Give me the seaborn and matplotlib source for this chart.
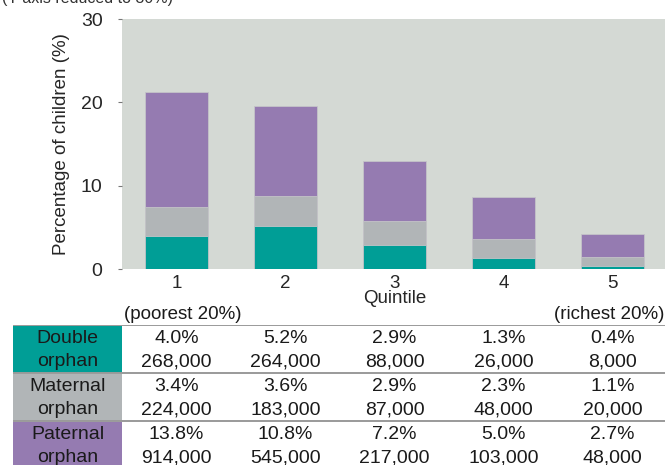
import matplotlib.pyplot as plt
import matplotlib.transforms as mtransforms
import pandas as pd
import seaborn as sns

# values
quintiles = ["1", "2", "3", "4", "5"]
double_pct = [4.0, 5.2, 2.9, 1.3, 0.4]
maternal_pct = [3.4, 3.6, 2.9, 2.3, 1.1]
paternal_pct = [13.8, 10.8, 7.2, 5.0, 2.7]
double_n = ["268,000", "264,000", "88,000", "26,000", "8,000"]
maternal_n = ["224,000", "183,000", "87,000", "48,000", "20,000"]
paternal_n = ["914,000", "545,000", "217,000", "103,000", "48,000"]
row_names = ["Double\norphan", "Maternal\norphan", "Paternal\norphan"]

teal = "#009E96"
grey = "#B1B5B7"
purple = "#957BB1"
bg = "#D4D9D4"

sns.set_theme(style="white")
plt.rcParams["font.family"] = ["Liberation Sans", "DejaVu Sans"]
plt.rcParams["text.color"] = "#1a1a1a"

df = pd.DataFrame({"quintile": quintiles, "double": double_pct,
                   "maternal": maternal_pct, "paternal": paternal_pct})
df["dm"] = df["double"] + df["maternal"]
df["total"] = df["dm"] + df["paternal"]

fig = plt.figure(figsize=(6.65, 4.65), dpi=100)
ax = fig.add_axes([122 / 665, 1 - 269 / 465, 545 / 665, 250 / 465])
ax.set_facecolor(bg)

# stacked bars: draw totals first, then overlay the lower parts
for col, c in [("total", purple), ("dm", grey), ("double", teal)]:
    sns.barplot(data=df, x="quintile", y=col, color=c, width=0.57,
                saturation=1, edgecolor="#c4c4c8", linewidth=0.6, ax=ax)

ax.set_xlim(-0.5, 4.5)
ax.set_ylim(0, 30)
ax.set_yticks([0, 10, 20, 30])
ax.set_yticklabels(["0", "10", "20", "30"], fontsize=14)
for s in ax.spines.values():
    s.set_visible(False)
ax.tick_params(axis="y", length=3, width=0.8, color="#777777", pad=11, left=True)
ax.tick_params(axis="x", length=0, pad=4, labelsize=13.5)
ax.set_ylabel("Percentage of children (%)", fontsize=13.5, labelpad=8)
ax.set_xlabel("Quintile", fontsize=13.5, labelpad=-1)

trans = mtransforms.blended_transform_factory(ax.transAxes, fig.transFigure)
ax.text(0.003, 1 - 314 / 465, "(poorest 20%)", transform=trans, ha="left", va="center", fontsize=13.5)
ax.text(0.996, 1 - 314 / 465, "(richest 20%)", transform=trans, ha="right", va="center", fontsize=13.5)

fig.text(2 / 665, 1 - 3 / 465, "(Y axis reduced to 30%)", fontsize=11.5, va="baseline", ha="left",
         color="#333333")

# table under the chart
tab = fig.add_axes([13 / 665, 0, 654 / 665, 140 / 465])
tab.set_xlim(-1.5, 4.5)
tab.set_ylim(140 / 48, 0)
tab.axis("off")
cols = [teal, grey, purple]
pcts = [double_pct, maternal_pct, paternal_pct]
nums = [double_n, maternal_n, paternal_n]
for i in range(3):
    tab.fill_between([-1.5, -0.5], i + 0.02, i + 1, color=cols[i], lw=0)
    tab.axhline(i, color="#9a9a9a", lw=1.4)
    name1, name2 = row_names[i].split("\n")
    tab.text(-1.0, i + 0.29, name1, ha="center", va="center", fontsize=14)
    tab.text(-1.0, i + 0.77, name2, ha="center", va="center", fontsize=14)
    for j in range(5):
        tab.text(j, i + 0.29, f"{pcts[i][j]:.1f}%", ha="center", va="center", fontsize=14)
        tab.text(j, i + 0.77, nums[i][j], ha="center", va="center", fontsize=14)

fig.savefig("out.png", dpi=100)
